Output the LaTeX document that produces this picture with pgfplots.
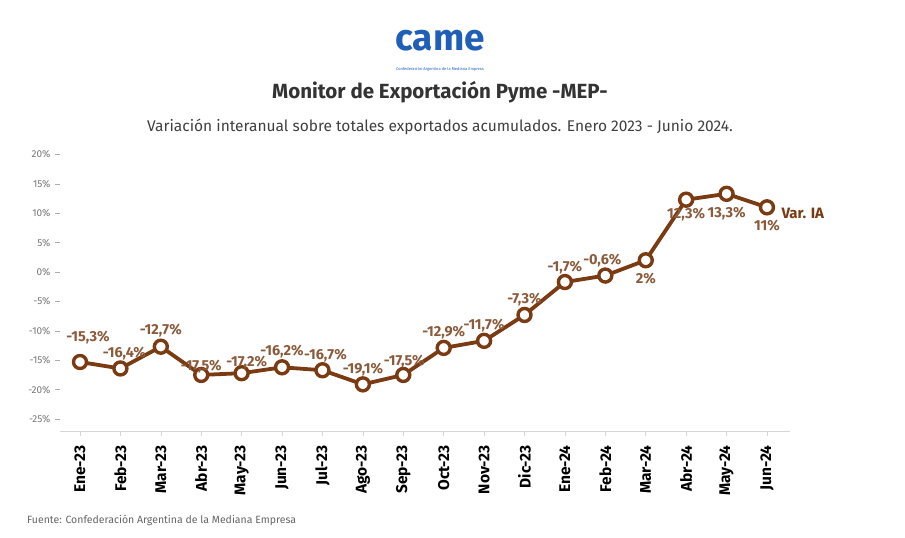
\documentclass[border=0pt]{standalone}
\usepackage{fontspec}
\setmainfont{Fira Sans}
\usepackage{pgfplots}
\usepackage{pgfplotstable}
\pgfplotsset{compat=1.18}
\definecolor{linebrown}{HTML}{7A3A12}
\definecolor{lblbrown}{HTML}{8A5A3A}
\definecolor{logoblue}{HTML}{1F5FB8}
\definecolor{gridgray}{HTML}{D6D6D6}
\definecolor{ticklbl}{HTML}{777777}
\pgfplotstableread{
x y lbl dx dy
0 -15.3 {-15,3\%} 8 24
1 -16.4 {-16,4\%} 4 15
2 -12.7 {-12,7\%} 0 16
3 -17.5 {-17,5\%} 0 8
4 -17.2 {-17,2\%} 5 11
5 -16.2 {-16,2\%} 0 16
6 -16.7 {-16,7\%} 3 15
7 -19.1 {-19,1\%} 0 15
8 -17.5 {-17,5\%} 1 13
9 -12.9 {-12,9\%} 0 15
10 -11.7 {-11,7\%} 0 15
11 -7.3 {-7,3\%} 0 15
12 -1.7 {-1,7\%} 0 14
13 -0.6 {-0,6\%} -3 15
14 2 {2\%} 0 -18
15 12.3 {12,3\%} 0 -15
16 13.3 {13,3\%} 0 -20
17 11 {11\%} 0 -18
}\datatable
\begin{document}
\begin{tikzpicture}
\useasboundingbox[fill=white] (0,0) rectangle (905pt,538pt);
% logo
\node[font=\bfseries\fontsize{37}{37}\selectfont, text=logoblue, inner sep=0pt] at (440pt,497pt) {came};
\node[font=\fontsize{4}{4}\selectfont, text=logoblue, inner sep=0pt] at (440pt,469pt) {Confederación Argentina de la Mediana Empresa};
% titles
\node[font=\bfseries\fontsize{20.5}{22}\selectfont, text=black!80, inner sep=0pt] at (440pt,446pt) {Monitor de Exportación Pyme -MEP-};
\node[font=\fontsize{15.5}{17}\selectfont, text=black!75, inner sep=0pt] at (440pt,411pt) {Variación interanual sobre totales exportados acumulados. Enero 2023 - Junio 2024.};
\node[font=\fontsize{10.5}{12}\selectfont, text=black!60, anchor=west, inner sep=0pt] at (27pt,18pt) {Fuente: Confederación Argentina de la Mediana Empresa};
\begin{axis}[
  at={(60pt,106pt)}, anchor=south west,
  scale only axis, width=730pt, height=287pt,
  xmin=-0.495, xmax=17.57, ymin=-27.2, ymax=21.6,
  axis x line*=bottom, axis y line=none,
  x axis line style={draw=gridgray, line width=1pt, -},
  xtick=data,
  xticklabels={Ene-23,Feb-23,Mar-23,Abr-23,May-23,Jun-23,Jul-23,Ago-23,Sep-23,Oct-23,Nov-23,Dic-23,Ene-24,Feb-24,Mar-24,Abr-24,May-24,Jun-24},
  xticklabel style={rotate=90, anchor=east, font=\bfseries\fontsize{15.5}{15.5}\selectfont, text=black, xshift=-6pt},
  x tick style={draw=gridgray, line width=0.6pt},
  tick align=outside, major tick length=4pt,
  ytick={-25,-20,...,20},
  ymajorgrids, grid style={draw=gridgray, dash pattern=on 2pt off 2pt, line width=0.6pt},
  clip=false,
]
\addplot[
  draw=linebrown, line width=3.8pt,
  mark=*, mark size=6.5pt,
  mark options={fill=white, draw=linebrown, line width=3.4pt},
  nodes near coords,
  point meta=explicit symbolic,
  visualization depends on={\thisrow{dx} \as \lbldx},
  visualization depends on={\thisrow{dy} \as \lbldy},
  every node near coord/.append style={anchor=center, xshift=\lbldx pt, yshift=\lbldy pt, font=\bfseries\fontsize{14.5}{15}\selectfont, text=lblbrown, inner sep=0pt},
] table[x=x, y=y, meta=lbl] {\datatable};
\addplot[draw=none, mark=none, nodes near coords={Var. IA}, every node near coord/.append style={anchor=west, xshift=11pt, yshift=-6pt, font=\bfseries\fontsize{15}{16}\selectfont, text=linebrown}] coordinates {(17,11)};
\end{axis}
\begin{axis}[
  at={(60pt,106pt)}, anchor=south west,
  scale only axis, width=730pt, height=287pt,
  xmin=-0.495, xmax=17.57, ymin=-27.2, ymax=21.6,
  axis x line=none, axis y line*=left,
  y axis line style={draw=none},
  ytick={-25,-20,...,20},
  yticklabel={\pgfmathprintnumber{\tick}\%},
  yticklabel style={font=\fontsize{10}{11}\selectfont, text=ticklbl, xshift=-1pt},
  y tick style={draw=ticklbl!60, line width=0.6pt},
  tick align=outside, major tick length=5pt,
  /pgf/number format/assume math mode=true,
]
\addplot[draw=none] coordinates {(0,0)};
\end{axis}
\end{tikzpicture}
\end{document}
